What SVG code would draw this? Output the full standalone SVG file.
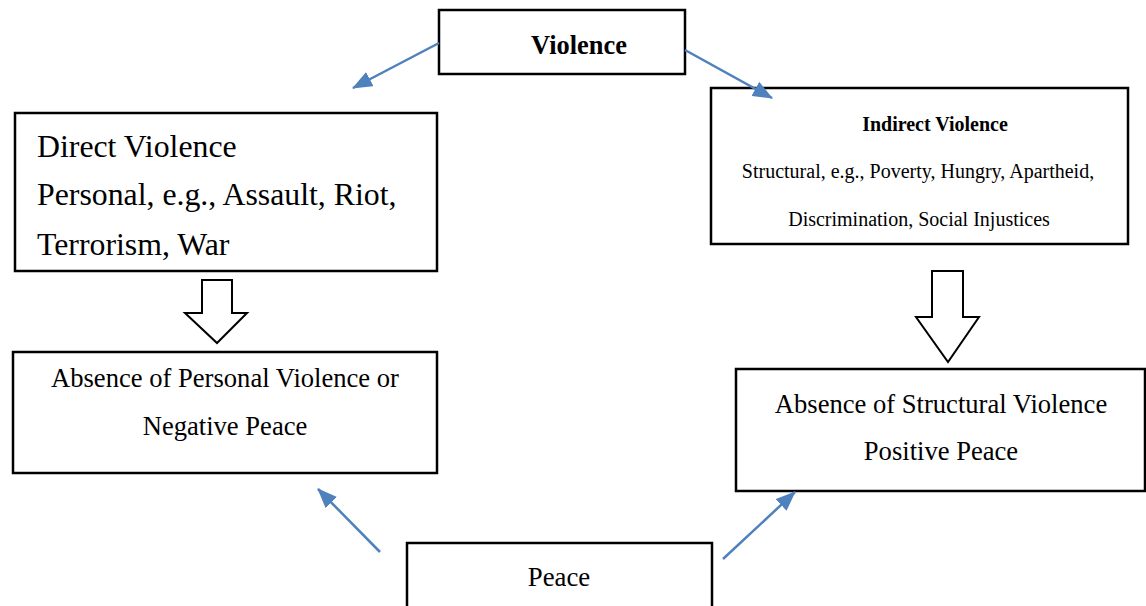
<svg xmlns="http://www.w3.org/2000/svg" width="1146" height="606" viewBox="0 0 1146 606">
<style>
.box{fill:#fff;stroke:#000;stroke-width:2.5}
.t{font-family:"Liberation Serif","Times New Roman",serif;fill:#000}
.b{font-weight:bold}
.c{text-anchor:middle}
.conn{stroke:#4F81BD;stroke-width:2.5;fill:none}
.block{fill:#fff;stroke:#000;stroke-width:2}
</style>
<defs>
<marker id="ah" markerUnits="userSpaceOnUse" markerWidth="20" markerHeight="16" viewBox="0 0 20 16" refX="19" refY="8" orient="auto">
<path d="M0,0 L20,8 L0,16 z" fill="#4F81BD"/>
</marker>
</defs>
<rect width="1146" height="606" fill="#fff"/>
<g id="violence">
<rect class="box" x="439" y="10" width="246" height="64"/>
<text class="t b c" x="579" y="54" font-size="26.4">Violence</text>
</g>
<g id="direct">
<rect class="box" x="15" y="113" width="422" height="158"/>
<text class="t" x="37" y="157" font-size="31.8">Direct Violence</text>
<text class="t" x="37" y="205" font-size="31.8">Personal, e.g., Assault, Riot,</text>
<text class="t" x="37" y="255" font-size="31.8">Terrorism, War</text>
</g>
<g id="indirect">
<rect class="box" x="711" y="88" width="417" height="156"/>
<text class="t b c" x="935" y="131" font-size="20">Indirect Violence</text>
<text class="t c" x="918" y="178" font-size="20">Structural, e.g., Poverty, Hungry, Apartheid,</text>
<text class="t c" x="919" y="226" font-size="20">Discrimination, Social Injustices</text>
</g>
<g id="negative">
<rect class="box" x="13" y="352" width="424" height="121"/>
<text class="t c" x="225" y="387" font-size="26.6">Absence of Personal Violence or</text>
<text class="t c" x="225" y="435" font-size="26.6">Negative Peace</text>
</g>
<g id="positive">
<rect class="box" x="736" y="369" width="409" height="122"/>
<text class="t c" x="941" y="413" font-size="26.6">Absence of Structural Violence</text>
<text class="t c" x="941" y="460" font-size="26.6">Positive Peace</text>
</g>
<g id="peace">
<rect class="box" x="407" y="543" width="305" height="70"/>
<text class="t c" x="559" y="586" font-size="26.8">Peace</text>
</g>
<g id="connectors">
<line class="conn" x1="439" y1="43" x2="353" y2="88" marker-end="url(#ah)"/>
<line class="conn" x1="685" y1="50" x2="772" y2="98" marker-end="url(#ah)"/>
<line class="conn" x1="380" y1="552" x2="318" y2="489" marker-end="url(#ah)"/>
<line class="conn" x1="723" y1="559" x2="795" y2="492" marker-end="url(#ah)"/>
<path class="block" d="M202,280 L232,280 L232,313 L247,313 L217,343 L185,313 L202,313 Z"/>
<path class="block" d="M932,271 L963,271 L963,317 L979,317 L948,362 L916,317 L932,317 Z"/>
</g>
</svg>
